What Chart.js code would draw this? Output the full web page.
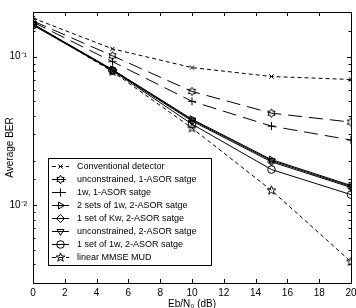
<!DOCTYPE html>
<html><head><meta charset="utf-8">
<script src="https://cdn.jsdelivr.net/npm/chart.js@4/dist/chart.umd.min.js"></script>
<style>html,body{margin:0;padding:0;background:#fff}</style>
</head><body>
<canvas id="c" width="356" height="308"></canvas>
<script>
// ---- data ----
const xValues = [0, 5, 10, 15, 20];
const seriesNames = [
  'Conventional detector',
  'unconstrained, 1-ASOR satge',
  '1w, 1-ASOR satge',
  '2 sets of 1w, 2-ASOR satge',
  '1 set of Kw, 2-ASOR satge',
  'unconstrained, 2-ASOR satge',
  '1 set of 1w, 2-ASOR satge',
  'linear MMSE MUD'
];
const conventional   = [0.182, 0.113, 0.0845, 0.0736, 0.0703];
const unconstrained1 = [0.174, 0.1015, 0.0584, 0.0417, 0.0363];
const oneW1          = [0.171, 0.0926, 0.0501, 0.0341, 0.0275];
const twoSets1w2     = [0.166, 0.0820, 0.0380, 0.0203, 0.0136];
const oneSetKw2      = [0.166, 0.0810, 0.0369, 0.0196, 0.0132];
const unconstrained2 = [0.165, 0.0815, 0.0375, 0.0200, 0.0134];
const oneSet1w2      = [0.163, 0.0807, 0.0352, 0.0174, 0.0118];
const mmse           = [0.166, 0.0794, 0.0331, 0.0126, 0.00417];
const xTicks = [0, 2, 4, 6, 8, 10, 12, 14, 16, 18, 20];
const yMajorLabels = { '-1': '10\u207B\u00B9', '-2': '10\u207B\u00B2' };
const xTitle = 'Eb/N\u2080 (dB)';
const yTitle = 'Average BER';

// ---- custom star markers ----
function starMarker(n, r, inner) {
  const s = 11;
  const c = document.createElement('canvas');
  c.width = s; c.height = s;
  const g = c.getContext('2d');
  g.strokeStyle = '#000'; g.lineWidth = 1;
  g.beginPath();
  for (let i = 0; i < 2 * n; i++) {
    const a = -Math.PI / 2 + i * Math.PI / n;
    const rr = i % 2 === 0 ? r : r * inner;
    const px = s / 2 + rr * Math.cos(a), py = s / 2 + rr * Math.sin(a);
    if (i === 0) g.moveTo(px, py); else g.lineTo(px, py);
  }
  g.closePath(); g.stroke();
  return c;
}
const hexagram = starMarker(6, 4.2, 0.58);
const pentagram = starMarker(5, 4.6, 0.42);

const seriesData = [conventional, unconstrained1, oneW1, twoSets1w2, oneSetKw2, unconstrained2, oneSet1w2, mmse];
const styles = [
  { dash: [4, 3], ps: 'crossRot', rot: 0, r: 3 },
  { dash: [14, 7], ps: hexagram, rot: 0, r: 4 },
  { dash: [14, 7], ps: 'cross', rot: 0, r: 4 },
  { dash: [], ps: 'triangle', rot: 90, r: 4 },
  { dash: [], ps: 'rectRot', rot: 0, r: 4 },
  { dash: [], ps: 'triangle', rot: 180, r: 4 },
  { dash: [], ps: 'circle', rot: 0, r: 3.8 },
  { dash: [4, 3], ps: pentagram, rot: 0, r: 4 }
];

const datasets = seriesNames.map((name, i) => ({
  label: name,
  data: xValues.map((x, j) => ({ x: x, y: seriesData[i][j] })),
  borderColor: '#000',
  borderWidth: 1,
  borderDash: styles[i].dash,
  pointStyle: styles[i].ps,
  pointRotation: styles[i].rot,
  pointRadius: styles[i].r,
  pointBorderColor: '#000',
  pointBackgroundColor: 'rgba(0,0,0,0)',
  pointBorderWidth: 1,
  fill: false,
  tension: 0
}));

const FONT = "'Liberation Sans', Arial, Helvetica, sans-serif";

const framePlugin = {
  id: 'frame',
  afterDraw(chart) {
    const ctx = chart.ctx, a = chart.chartArea;
    const xs = chart.scales.x, ys = chart.scales.y;
    ctx.save();
    ctx.strokeStyle = '#000'; ctx.lineWidth = 1; ctx.setLineDash([]);
    ctx.strokeRect(Math.round(a.left) + 0.5, Math.round(a.top) + 0.5,
      Math.round(a.right - a.left), Math.round(a.bottom - a.top));
    ctx.beginPath();
    xs.ticks.forEach(t => {
      const px = Math.round(xs.getPixelForValue(t.value)) + 0.5;
      ctx.moveTo(px, a.bottom); ctx.lineTo(px, a.bottom - 4);
      ctx.moveTo(px, a.top); ctx.lineTo(px, a.top + 4);
    });
    ys.ticks.forEach(t => {
      const lg = Math.log10(t.value);
      const major = Math.abs(lg - Math.round(lg)) < 1e-6;
      const len = major ? 4 : 2.5;
      const py = Math.round(ys.getPixelForValue(t.value)) + 0.5;
      ctx.moveTo(a.left, py); ctx.lineTo(a.left + len, py);
      ctx.moveTo(a.right, py); ctx.lineTo(a.right - len, py);
    });
    ctx.stroke();

    // legend box
    const bx = a.left + 15, by = a.bottom - 125, bw = 163, bh = 107;
    ctx.fillStyle = '#fff';
    ctx.fillRect(bx, by, bw, bh);
    ctx.strokeRect(Math.round(bx) + 0.5, Math.round(by) + 0.5, bw, bh);
    ctx.font = '9px ' + FONT;
    ctx.textBaseline = 'middle';
    ctx.textAlign = 'left';
    chart.data.datasets.forEach((ds, i) => {
      const cy = Math.round(by + 8 + i * 13) + 0.5;
      ctx.strokeStyle = '#000';
      ctx.lineWidth = 1;
      ctx.setLineDash(ds.borderDash);
      ctx.beginPath();
      ctx.moveTo(bx + 4, cy); ctx.lineTo(bx + 21, cy);
      ctx.stroke();
      ctx.setLineDash([]);
      ctx.fillStyle = 'rgba(0,0,0,0)';
      Chart.helpers.drawPoint(ctx, {
        pointStyle: ds.pointStyle, rotation: ds.pointRotation,
        radius: ds.pointRadius, borderWidth: 1
      }, bx + 12.5, cy);
      ctx.fillStyle = '#000';
      ctx.fillText(ds.label, bx + 29, cy + 0.5);
    });
    ctx.restore();
  }
};

new Chart(document.getElementById('c'), {
  type: 'line',
  data: { datasets: datasets },
  options: {
    responsive: false,
    animation: false,
    devicePixelRatio: 1,
    layout: { padding: { top: 8, right: 5, left: 0, bottom: 0 } },
    plugins: { legend: { display: false }, tooltip: { enabled: false } },
    scales: {
      x: {
        type: 'linear', min: 0, max: 20,
        afterBuildTicks(s) { s.ticks = xTicks.map(v => ({ value: v })); },
        afterFit(s) { s.height = 25; s.paddingLeft = 0; s.paddingRight = 0; },
        grid: { display: false, drawTicks: false },
        border: { display: false },
        ticks: { color: '#000', font: { family: FONT, size: 10 }, padding: 4, maxRotation: 0, autoSkip: false },
        title: { display: true, text: xTitle, color: '#000', font: { family: FONT, size: 10 }, padding: { top: 0, bottom: -2 } }
      },
      y: {
        type: 'logarithmic', min: 0.003, max: 0.2,
        afterFit(s) { s.width = 33; },
        grid: { display: false, drawTicks: false },
        border: { display: false },
        ticks: {
          color: '#000', font: { family: FONT, size: 10 }, padding: 6, autoSkip: false,
          callback(v) {
            const lg = Math.log10(v);
            if (Math.abs(lg - Math.round(lg)) < 1e-6) return yMajorLabels[String(Math.round(lg))] || '';
            return '';
          }
        },
        title: { display: true, text: yTitle, color: '#000', font: { family: FONT, size: 10 }, padding: { top: 4, bottom: 0 } }
      }
    }
  },
  plugins: [framePlugin]
});
</script>
</body></html>
